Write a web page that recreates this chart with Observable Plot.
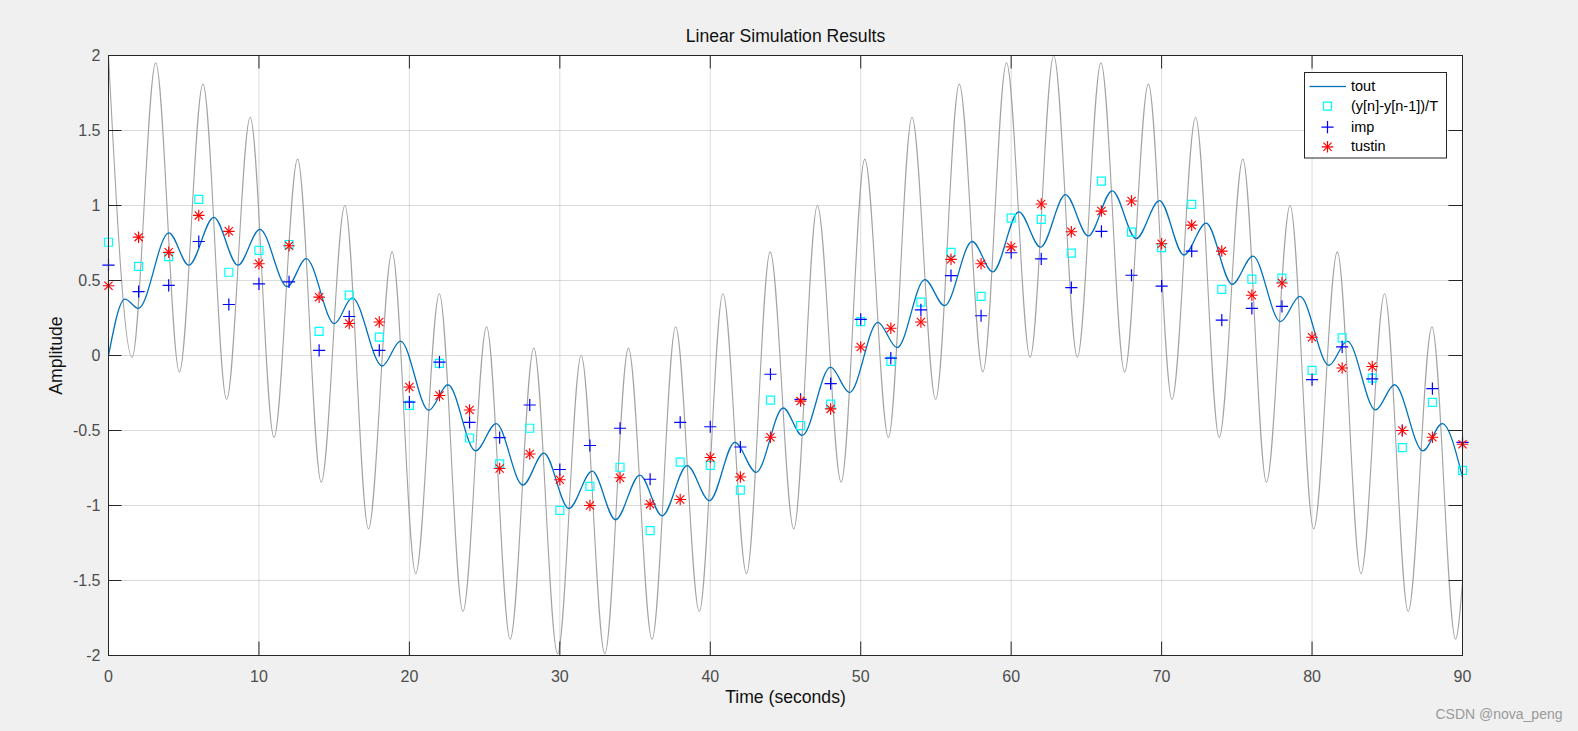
<!DOCTYPE html>
<html><head><meta charset="utf-8">
<script src="https://cdn.jsdelivr.net/npm/d3@7"></script>
<script src="https://cdn.jsdelivr.net/npm/@observablehq/plot@0.6"></script>
<style>
html,body{margin:0;padding:0;background:#f0f0f0;}
#chart{width:1578px;height:731px;}
#chart svg{overflow:visible;}
</style></head><body><div id="chart"></div>
<script>
// Input signal (gray): local extrema
const inputT = [0,1.57,3.14,4.71,6.28,7.85,9.42,11.0,12.57,14.14,15.71,17.28,18.85,20.42,21.99,23.56,25.13,26.7,28.27,29.85,31.42,32.99,34.56,36.13,37.7,39.27,40.84,42.41,43.98,45.55,47.12,48.7,50.27,51.84,53.41,54.98,56.55,58.12,59.69,61.26,62.83,64.4,65.97,67.54,69.12,70.69,72.26,73.83,75.4,76.97,78.54,80.11,81.68,83.25,84.82,86.39,87.97,89.54,90];
const inputU = [2.0,-0.012,1.951,-0.109,1.809,-0.293,1.588,-0.546,1.309,-0.844,1.0,-1.156,0.691,-1.454,0.412,-1.707,0.191,-1.891,0.049,-1.988,0.0,-1.988,0.049,-1.891,0.191,-1.707,0.412,-1.454,0.691,-1.156,1.0,-0.844,1.309,-0.546,1.588,-0.293,1.809,-0.109,1.951,-0.012,2.0,-0.012,1.951,-0.109,1.809,-0.293,1.588,-0.546,1.309,-0.844,1.0,-1.156,0.691,-1.454,0.412,-1.707,0.191,-1.891,-1.51];

// tout (blue line): local extrema
const toutT = [0,1.09,1.99,4.01,5.34,7.0,8.6,10.06,11.88,13.14,15.02,16.2,18.19,19.41,21.29,22.56,24.4,25.77,27.54,28.94,30.6,32.15,33.7,35.32,36.8,38.46,39.95,41.63,43.05,44.85,46.11,47.99,49.26,51.14,52.42,54.26,55.57,57.41,58.78,60.51,61.95,63.61,65.12,66.72,68.31,69.86,71.48,72.96,74.69,76.07,77.9,79.19,81.12,82.34,84.22,85.48,87.37,88.65,90];
const toutY = [0,0.376,0.314,0.818,0.602,0.921,0.602,0.841,0.459,0.646,0.213,0.384,-0.070,0.096,-0.366,-0.195,-0.636,-0.454,-0.864,-0.651,-1.02,-0.771,-1.095,-0.797,-1.069,-0.734,-0.968,-0.579,-0.779,-0.350,-0.532,-0.078,-0.247,0.221,0.052,0.506,0.332,0.760,0.558,0.958,0.722,1.072,0.797,1.098,0.779,1.033,0.670,0.882,0.475,0.662,0.226,0.394,-0.065,0.096,-0.363,-0.195,-0.636,-0.454,-0.812];

// Discrete samples
const sampleT = [0,2,4,6,8,10,12,14,16,18,20,22,24,26,28,30,32,34,36,38,40,42,44,46,48,50,52,54,56,58,60,62,64,66,68,70,72,74,76,78,80,82,84,86,88,90];
const diffY = [0.755,0.594,0.659,1.041,0.555,0.701,0.740,0.161,0.402,0.122,-0.332,-0.052,-0.550,-0.722,-0.485,-1.033,-0.872,-0.745,-1.168,-0.711,-0.732,-0.898,-0.298,-0.467,-0.324,0.226,-0.039,0.356,0.688,0.394,0.916,0.908,0.683,1.163,0.823,0.719,1.007,0.441,0.509,0.516,-0.099,0.117,-0.151,-0.614,-0.312,-0.766];
const impY = [0.602,0.426,0.467,0.760,0.340,0.478,0.491,0.034,0.260,0.034,-0.311,-0.044,-0.446,-0.548,-0.330,-0.760,-0.600,-0.485,-0.825,-0.446,-0.475,-0.610,-0.125,-0.293,-0.187,0.241,-0.018,0.304,0.532,0.265,0.685,0.644,0.452,0.828,0.535,0.462,0.696,0.236,0.314,0.327,-0.161,0.057,-0.156,-0.500,-0.221,-0.579];
const tustinY = [0.465,0.789,0.688,0.934,0.828,0.612,0.732,0.389,0.213,0.223,-0.210,-0.267,-0.363,-0.753,-0.657,-0.828,-1.000,-0.815,-0.991,-0.960,-0.680,-0.810,-0.545,-0.304,-0.356,0.057,0.182,0.223,0.641,0.612,0.724,1.010,0.825,0.963,1.030,0.745,0.869,0.696,0.402,0.483,0.122,-0.083,-0.073,-0.500,-0.545,-0.592];

const xTicks = [0,10,20,30,40,50,60,70,80,90];
const xTickLabels = ["0","10","20","30","40","50","60","70","80","90"];
const yTicks = [-2,-1.5,-1,-0.5,0,0.5,1,1.5,2];
const yTickLabels = ["-2","-1.5","-1","-0.5","0","0.5","1","1.5","2"];
const legendLabels = ["tout","(y[n]-y[n-1])/T","imp","tustin"];
const titleText = "Linear Simulation Results";
const xLabelText = "Time (seconds)";
const yLabelText = "Amplitude";
const watermark = "CSDN @nova_peng";

const W = 1578, H = 731, ML = 108, MR = 116, MT = 55, MB = 76;
const FW = W - ML - MR, FH = H - MT - MB;
const tickLen = 13.5;
const font = "'Liberation Sans', Arial, Helvetica, sans-serif";
const axisColor = "#262626";

const inputData = inputT.map((t, i) => ({t, u: inputU[i]}));
const toutData = toutT.map((t, i) => ({t, y: toutY[i]}));
const sampleData = sampleT.map((t, i) => ({t, diff: diffY[i], imp: impY[i], tustin: tustinY[i]}));

// legend layout
const legX = 1304 - ML, legRight = (ML + FW) - 1446, legTop = 72 - MT, legBottom = (MT + FH) - 157.5;
const legRowDy = [31, 50.7, 71.7, 91.3];
const legSymDx = -135, legTextDx = -111.5;

const marks = [
  Plot.frame({fill: "white", stroke: null}),
  Plot.ruleX(xTicks, {x: d => d, stroke: "#000", strokeOpacity: 0.14}),
  Plot.ruleY(yTicks, {y: d => d, stroke: "#000", strokeOpacity: 0.14}),
  Plot.line(inputData, {x: "t", y: "u", curve: "monotone-x", stroke: "#a3a3a3", strokeWidth: 1.1}),
  Plot.line(toutData, {x: "t", y: "y", curve: "monotone-x", stroke: "#0072bd", strokeWidth: 1.3}),
  Plot.dot(sampleData, {x: "t", y: "diff", symbol: "square", r: 4.5, stroke: "#00ffff", fill: "none", strokeWidth: 1.2}),
  Plot.dot(sampleData, {x: "t", y: "imp", symbol: "plus", r: 4, stroke: "#0000ff", strokeWidth: 1.2}),
  Plot.dot(sampleData, {x: "t", y: "tustin", symbol: "plus", r: 3.8, stroke: "#ff0000", strokeWidth: 1.15}),
  Plot.dot(sampleData, {x: "t", y: "tustin", symbol: "times", r: 3.8, stroke: "#ff0000", strokeWidth: 1.15}),
  Plot.frame({stroke: axisColor, strokeWidth: 1}),
  Plot.ruleX(xTicks, {x: d => d, insetTop: FH - tickLen, stroke: axisColor}),
  Plot.ruleX(xTicks, {x: d => d, insetBottom: FH - tickLen, stroke: axisColor}),
  Plot.ruleY(yTicks, {y: d => d, insetRight: FW - tickLen, stroke: axisColor}),
  Plot.ruleY(yTicks, {y: d => d, insetLeft: FW - tickLen, stroke: axisColor}),
  Plot.text(xTicks, {x: d => d, text: (d, i) => xTickLabels[i], frameAnchor: "bottom", lineAnchor: "middle", textAnchor: "middle", dy: 21, fontSize: 16, fill: "#4d4d4d"}),
  Plot.text(yTicks, {y: d => d, text: (d, i) => yTickLabels[i], frameAnchor: "left", lineAnchor: "middle", dx: -8, textAnchor: "end", fontSize: 16, fill: "#4d4d4d"}),
  Plot.text([titleText], {frameAnchor: "top", lineAnchor: "middle", textAnchor: "middle", dy: -19, fontSize: 17.6, fill: "#111"}),
  Plot.text([xLabelText], {frameAnchor: "bottom", lineAnchor: "middle", textAnchor: "middle", dy: 42, fontSize: 17.6, fill: "#111"}),
  Plot.text([yLabelText], {frameAnchor: "left", lineAnchor: "middle", textAnchor: "middle", dx: -52, rotate: -90, fontSize: 17.6, fill: "#111"}),
  Plot.text([watermark], {frameAnchor: "bottom-right", lineAnchor: "middle", dx: 100, dy: 59, textAnchor: "end", fontSize: 14, fill: "#9a9a9a"}),
  // legend
  Plot.frame({fill: "white", stroke: axisColor, insetLeft: legX, insetRight: legRight, insetTop: legTop, insetBottom: legBottom}),
  Plot.frame({fill: "#0072bd", stroke: null, insetLeft: 1309 - ML, insetRight: (ML + FW) - 1345.5, insetTop: legRowDy[0] - 0.65, insetBottom: FH - legRowDy[0] - 0.65}),
  Plot.dot([legendLabels[1]], {frameAnchor: "top-right", dx: legSymDx, dy: legRowDy[1], symbol: "square", r: 4.5, stroke: "#00ffff", fill: "none", strokeWidth: 1.2}),
  Plot.dot([legendLabels[2]], {frameAnchor: "top-right", dx: legSymDx, dy: legRowDy[2], symbol: "plus", r: 4, stroke: "#0000ff", strokeWidth: 1.2}),
  Plot.dot([legendLabels[3]], {frameAnchor: "top-right", dx: legSymDx, dy: legRowDy[3], symbol: "plus", r: 3.8, stroke: "#ff0000", strokeWidth: 1.15}),
  Plot.dot([legendLabels[3]], {frameAnchor: "top-right", dx: legSymDx, dy: legRowDy[3], symbol: "times", r: 3.8, stroke: "#ff0000", strokeWidth: 1.15}),
  ...legendLabels.map((label, i) => Plot.text([label], {frameAnchor: "top-right", lineAnchor: "middle", dx: legTextDx, dy: legRowDy[i], textAnchor: "start", fontSize: 14.5, fill: "#000"}))
];

const plot = Plot.plot({
  width: W, height: H,
  marginLeft: ML, marginRight: MR, marginTop: MT, marginBottom: MB,
  x: {domain: [0, 90], axis: null},
  y: {domain: [-2, 2], axis: null},
  style: {background: "transparent", fontFamily: font, overflow: "visible"},
  marks
});
document.getElementById("chart").appendChild(plot);
</script>
</body></html>
